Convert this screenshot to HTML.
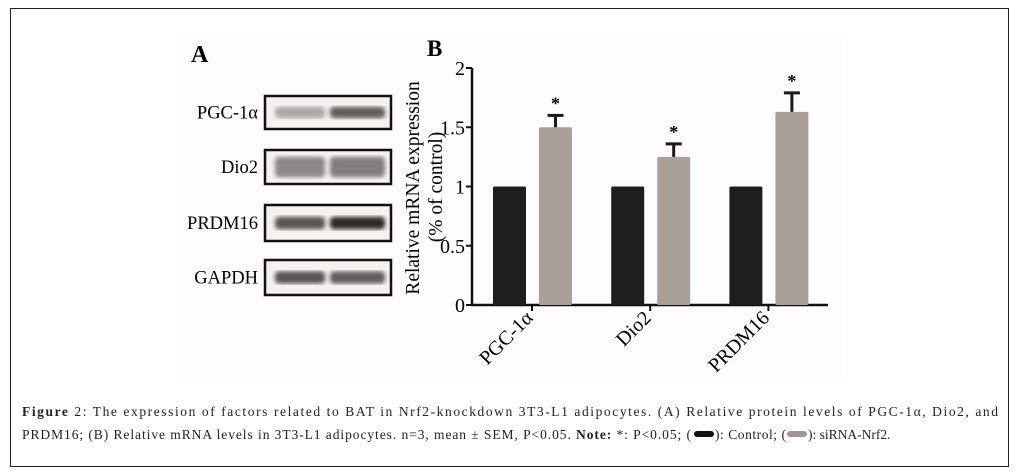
<!DOCTYPE html>
<html><head><meta charset="utf-8"><style>
body{margin:0;width:1018px;height:475px;background:#fff;overflow:hidden;font-family:"Liberation Serif",serif}
#frame{position:absolute;left:10px;top:8px;width:997px;height:457px;border:1px solid #222}
#img{position:absolute;left:178px;top:33px;width:665px;height:350px;background:#fefcfc}
</style></head><body>
<div id="frame"></div>
<div id="img"></div>
<svg width="1018" height="475" style="position:absolute;left:0;top:0">
<defs>
<filter id="blur"><feGaussianBlur stdDeviation="2.2"/></filter>
</defs>
<text x="191" y="62" font-size="24" font-weight="bold" font-family="Liberation Serif">A</text>
<g id="blots"></g>
<text x="427" y="56" font-size="23" font-weight="bold" font-family="Liberation Serif">B</text>
<g id="chart"></g>
<text x="22" y="416" font-size="13.5" fill="#222" textLength="976" lengthAdjust="spacing"><tspan font-weight="bold">Figure</tspan> 2: The expression of factors related to BAT in Nrf2-knockdown 3T3-L1 adipocytes. (A) Relative protein levels of PGC-1α, Dio2, and</text>
<text x="22" y="439" font-size="13.5" fill="#222" textLength="669" lengthAdjust="spacing">PRDM16; (B) Relative mRNA levels in 3T3-L1 adipocytes. n=3, mean ± SEM, P&lt;0.05. <tspan font-weight="bold">Note:</tspan> *: P&lt;0.05; (</text>
<rect x="694" y="431" width="20" height="6" rx="3" fill="#111"/>
<text x="715" y="439" font-size="13.5" fill="#222" textLength="71" lengthAdjust="spacing">): Control; (</text>
<rect x="787" y="431" width="20" height="6" rx="3" fill="#a09494"/>
<text x="808" y="439" font-size="13.5" fill="#222">): siRNA-Nrf2.</text>
</svg>
<script>
const NS="http://www.w3.org/2000/svg";
function mk(p,t,a){const e=document.createElementNS(NS,t);for(const k in a)e.setAttribute(k,a[k]);p.appendChild(e);return e;}
const blotLabels=["PGC-1α","Dio2","PRDM16","GAPDH"];
const blotTops=[96,150,205,260];
const blotH=[33,34,36,35];
const bandIntensity=[[0.35,0.7],[0.5,0.55],[0.75,0.95],[0.75,0.7]];
const bg=document.getElementById('blots');
blotLabels.forEach((l,i)=>{
  const y=blotTops[i],h=blotH[i];
  const t=mk(bg,'text',{x:258,y:y+h/2+6,'text-anchor':'end','font-size':18.5});
  t.textContent=l;
  
  
  const r=mk(bg,'rect',{x:265,y:y,width:126,height:h,fill:'#f6f0ee',stroke:'#111','stroke-width':2.5});
  
  
  [[275,50],[330,55]].forEach((b,j)=>{
    const op=bandIntensity[i][j];
    const bh=i===1?h*0.6:h*0.35;
    const e=mk(bg,'rect',{x:b[0],y:y+h/2-bh/2,width:b[1],height:bh,rx:4,fill:'#222',opacity:op,filter:'url(#blur)'});
    
    
  });
});
const categories=["PGC-1α","Dio2","PRDM16"];
const controlVals=[1,1,1];
const sirnaVals=[1.50,1.25,1.63];
const sirnaErr=[0.10,0.11,0.16];
const yTicks=[0,0.5,1,1.5,2];
const yTickLabels=["0","0.5","1","1.5","2"];
const g=document.getElementById('chart');
const y0=305,yTop=68,ax=472,axEnd=828;
const Y=v=>y0-(v/2)*(y0-yTop);
const groupX=i=>493+i*118.2;
mk(g,'line',{x1:ax,y1:yTop,x2:ax,y2:y0+1,stroke:'#111','stroke-width':2.5});
mk(g,'line',{x1:ax-1,y1:y0,x2:axEnd,y2:y0,stroke:'#111','stroke-width':2.5});
yTicks.forEach((v,i)=>{
  mk(g,'line',{x1:ax-6,y1:Y(v),x2:ax,y2:Y(v),stroke:'#111','stroke-width':2});
  const t=mk(g,'text',{x:ax-7,y:Y(v)+7,'text-anchor':'end','font-size':20});
  t.textContent=yTickLabels[i];
  
  
});
const yt=mk(g,'text',{transform:'translate(419,188) rotate(-90)','text-anchor':'middle','font-size':19.5});
yt.textContent="Relative mRNA expression";


const yt2=mk(g,'text',{transform:'translate(442,187) rotate(-90)','text-anchor':'middle','font-size':19.5});
yt2.textContent="(% of control)";


categories.forEach((c,i)=>{
  const gx=groupX(i);
  const b1=mk(g,'rect',{x:gx,y:Y(controlVals[i]),width:33,height:y0-Y(controlVals[i]),fill:'#1e1e1e',rx:1.5});
  
  
  const sx=gx+46;
  const b2=mk(g,'rect',{x:sx,y:Y(sirnaVals[i]),width:33,height:y0-Y(sirnaVals[i]),fill:'#ab9f9a',rx:1.5});
  
  
  const cx=sx+16.5,top=Y(sirnaVals[i]+sirnaErr[i]);
  mk(g,'line',{x1:cx,y1:Y(sirnaVals[i]),x2:cx,y2:top,stroke:'#1a1a1a','stroke-width':3});
  mk(g,'line',{x1:cx-8,y1:top,x2:cx+8,y2:top,stroke:'#1a1a1a','stroke-width':3});
  const st=mk(g,'text',{x:cx,y:top-6,'text-anchor':'middle','font-size':18,'font-weight':'bold'});
  st.textContent="*";
  
  
  const tx=gx+39;
  mk(g,'line',{x1:tx,y1:y0,x2:tx,y2:y0+6,stroke:'#111','stroke-width':2});
  const xl=mk(g,'text',{transform:`translate(${tx+2},${y0+14}) rotate(-45)`,'text-anchor':'end','font-size':20});
  xl.textContent=c;
  
  
});
</script>
</body></html>
